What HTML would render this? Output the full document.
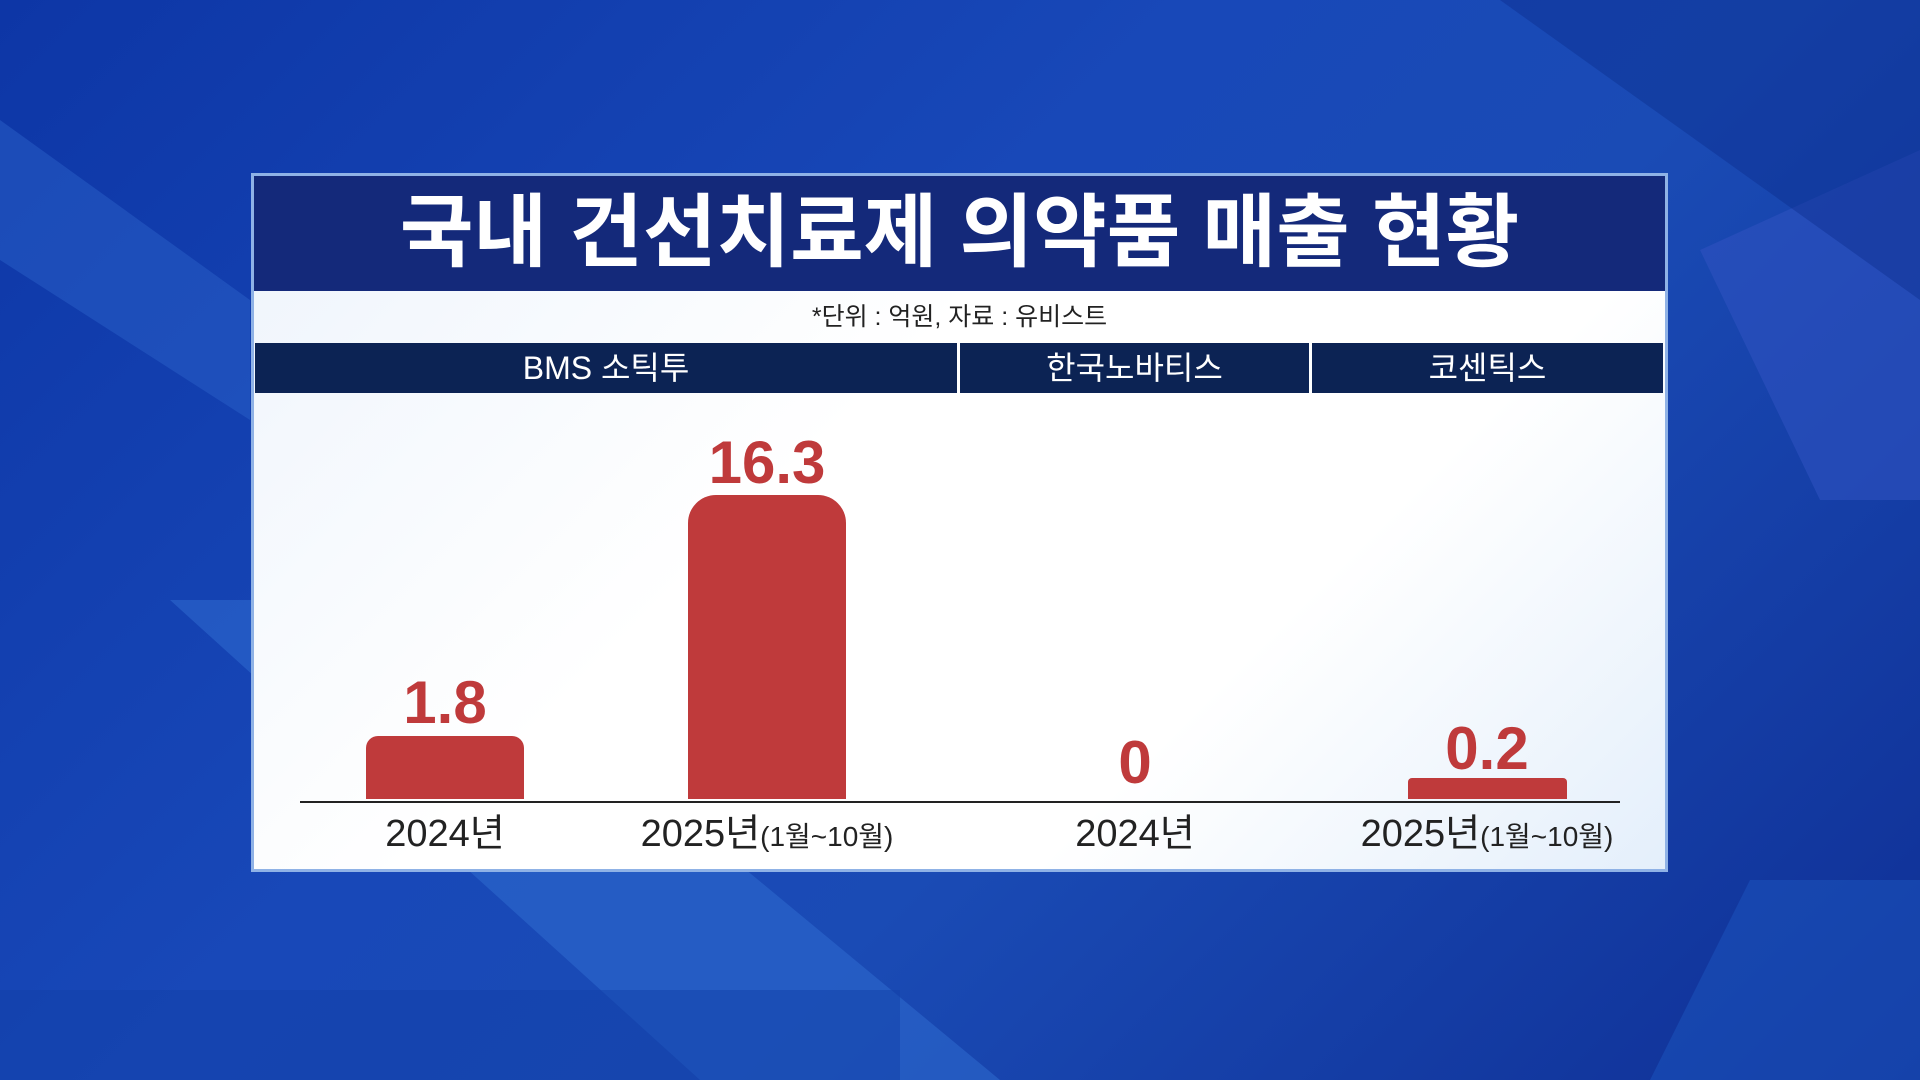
<!DOCTYPE html>
<html><head><meta charset="utf-8"><style>
body{margin:0;width:1920px;height:1080px;overflow:hidden;position:relative;background:linear-gradient(135deg,#0d36a6 0%,#1848b8 40%,#1a4bb5 60%,#0f2f95 100%);font-family:"Liberation Sans","Noto Sans CJK KR",sans-serif}
.a{position:absolute}
.t{position:absolute;text-align:center;white-space:nowrap}
</style></head><body>
<svg class="a" style="left:0;top:0" width="1920" height="1080">
<polygon points="0,120 250,300 250,420 0,260" fill="#2a5fc8" opacity="0.5"/>
<polygon points="170,600 420,600 1000,1080 700,1080" fill="#2f6cd0" opacity="0.55"/>
<polygon points="1700,250 1920,150 1920,500 1820,500" fill="#2f52c0" opacity="0.6"/>
<polygon points="1500,0 1920,0 1920,300" fill="#0a2a8a" opacity="0.4"/>
<polygon points="1750,880 1920,880 1920,1080 1650,1080" fill="#1c55c0" opacity="0.5"/>
<polygon points="0,990 900,990 900,1080 0,1080" fill="#1240a8" opacity="0.5"/>
</svg>
<div class="a" style="left:251px;top:173px;width:1417px;height:699px;background:linear-gradient(135deg,#eef4fc,#fff 40%,#fff 70%,#e4effb);border:3px solid #8fb2e6;box-sizing:border-box"></div>
<div class="a" style="left:254px;top:176px;width:1411px;height:115px;background:#14297a"></div>
<div class="t" style="left:254px;top:183px;width:1411px;font-size:80px;font-weight:bold;color:#fff;line-height:100px">국내 건선치료제 의약품 매출 현황</div>
<div class="t" style="left:254px;top:302px;width:1411px;font-size:25px;color:#222;line-height:30px">*단위 : 억원, 자료 : 유비스트</div>
<div class="a" style="left:255px;top:343px;width:702px;height:50px;background:#0c2354"></div>
<div class="a" style="left:960px;top:343px;width:349px;height:50px;background:#0c2354"></div>
<div class="a" style="left:1312px;top:343px;width:351px;height:50px;background:#0c2354"></div>
<div class="t" style="left:255px;top:343px;width:702px;font-size:32px;color:#fff;line-height:50px">BMS 소틱투</div>
<div class="t" style="left:960px;top:343px;width:349px;font-size:32px;color:#fff;line-height:50px">한국노바티스</div>
<div class="t" style="left:1312px;top:343px;width:351px;font-size:32px;color:#fff;line-height:50px">코센틱스</div>
<div class="a" style="left:366px;top:736px;width:158px;height:63px;background:#bf3a3b;border-radius:12px 12px 0 0"></div>
<div class="a" style="left:688px;top:495px;width:158px;height:304px;background:#bf3a3b;border-radius:28px 28px 0 0"></div>
<div class="a" style="left:1408px;top:778px;width:159px;height:21px;background:#bf3a3b;border-radius:4px 4px 0 0"></div>
<div class="a" style="left:300px;top:801px;width:1320px;height:2px;background:#222"></div>
<div class="t" style="left:295px;top:668px;width:300px;font-size:60px;font-weight:bold;color:#bf3a3b;line-height:70px">1.8</div>
<div class="t" style="left:617px;top:428px;width:300px;font-size:60px;font-weight:bold;color:#bf3a3b;line-height:70px">16.3</div>
<div class="t" style="left:985px;top:728px;width:300px;font-size:60px;font-weight:bold;color:#bf3a3b;line-height:70px">0</div>
<div class="t" style="left:1337px;top:714px;width:300px;font-size:60px;font-weight:bold;color:#bf3a3b;line-height:70px">0.2</div>
<div class="t" style="left:295px;top:812px;width:300px;font-size:38px;color:#222;line-height:44px">2024년</div>
<div class="t" style="left:567px;top:812px;width:400px;font-size:38px;color:#222;line-height:44px">2025년<span style="font-size:28px">(1월~10월)</span></div>
<div class="t" style="left:985px;top:812px;width:300px;font-size:38px;color:#222;line-height:44px">2024년</div>
<div class="t" style="left:1287px;top:812px;width:400px;font-size:38px;color:#222;line-height:44px">2025년<span style="font-size:28px">(1월~10월)</span></div>
</body></html>
